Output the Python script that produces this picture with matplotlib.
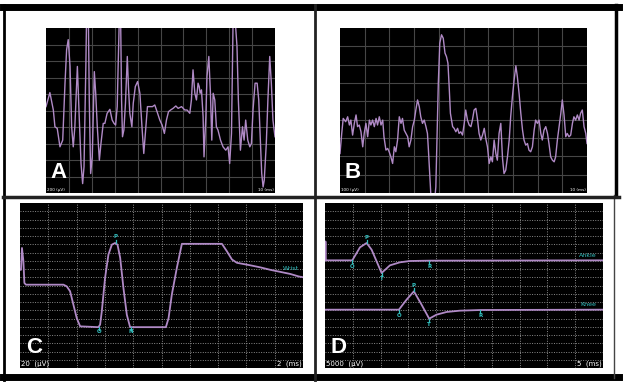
import numpy as np
import matplotlib.pyplot as plt
from matplotlib.lines import Line2D

# ---- data ----
# A: 200 uV/div, 10 ms/div
a_t = [0, 1.7, 3.2, 3.9, 4.9, 6.1, 7.3, 8.3, 9.0, 9.7, 10.5, 11.2, 11.9, 12.6, 13.7,
       14.5, 15.3, 16.0, 16.6, 17.4, 17.7, 18.5, 18.9, 19.5, 20.2, 21.1, 21.7, 22.4,
       23.3, 24.0, 25.0, 25.7, 26.7, 27.9, 28.9, 29.7, 30.4, 31.1, 31.5, 32.0, 32.6,
       33.0, 33.4, 34.0, 34.7, 35.5, 36.0, 36.6, 37.5, 38.1, 39.0, 40.0, 41.0, 42.0,
       42.7, 43.5, 44.3, 45.3, 46.5, 47.5, 48.5, 49.7, 50.7, 51.7, 52.6, 53.5, 54.4,
       55.5, 56.7, 57.7, 59.2, 60.6, 61.6, 62.8, 63.5, 64.2, 65.0, 65.7, 66.4, 66.9,
       67.3, 67.9, 68.6, 69.0, 69.8, 70.3, 71.1, 71.8, 72.4, 73.0, 73.7, 74.4, 75.1,
       76.2, 77.3, 78.5, 79.5, 80.2, 81.0, 81.7, 82.6, 83.4, 84.0, 84.9, 85.8, 86.5,
       87.2, 88.1, 89.0, 89.7, 90.4, 91.3, 92.2, 92.9, 93.6, 94.2, 94.8, 95.3, 96.2,
       96.9, 97.7, 98.4, 99.1, 100]
a_uv = [47, 217, 6, -197, -217, -440, -359, 331, 737, 859, 534, -197, -440, -197, 534,
        -75, -643, -886, -680, 534, 1100, 1100, 128, -764, -562, 471, 209, -197,
        -602, -400, -156, -156, -34, 14, -116, -156, -176, 47, 534, 1100, 1100,
        128, -318, -237, 87, 655, 290, -34, -197, 87, 290, 351, 209, -237,
        -521, -237, 47, 47, 47, 67, -14, -116, -176, -278, -116, -14, 6,
        26, 55, 26, 47, 6, 6, -34, 128, 493, 209, 128, 331, 290,
        209, 250, -75, -562, -75, 412, 655, 209, -359, 209, 128, -197, -237,
        -359, -440, -481, -440, -643, -278, 1100, 1100, 777, 128, -481, -197, -359,
        -116, -359, -440, -400, 6, 331, 331, 128, -359, -764, -927, -846, -400,
        128, 655, 331, -116, -318]

# B: 100 uV/div, 10 ms/div
b_t = [0, 0.7, 1.3, 2.3, 3.1, 3.8, 4.4, 5.1, 5.8, 6.5, 7.1, 7.8, 8.5, 9.2, 9.8, 10.5,
       11.2, 11.9, 12.5, 13.2, 13.9, 14.6, 15.2, 15.9, 16.6, 17.3, 17.8, 18.6, 19.3,
       19.9, 20.6, 21.3, 22.0, 22.6, 23.3, 24.0, 24.7, 25.3, 26.0, 26.7, 27.4, 28.0,
       28.7, 29.4, 30.1, 30.7, 31.4, 32.1, 32.7, 33.4, 34.1, 34.8, 35.4, 35.8, 36.4,
       37.1, 38.0, 38.8, 39.2, 39.8, 40.4, 41.1, 41.8, 42.5, 43.1, 43.7, 44.2, 44.7,
       45.6, 46.2, 46.9, 47.6, 48.2, 48.9, 49.6, 50.3, 50.9, 51.6, 52.3, 53.0, 53.6,
       54.3, 55.0, 55.7, 56.3, 57.0, 57.7, 58.4, 59.0, 59.7, 60.4, 61.1, 61.7, 62.4,
       63.1, 63.7, 64.4, 65.1, 65.8, 66.4, 67.1, 67.8, 68.5, 69.1, 69.8, 70.5, 71.2,
       71.8, 72.5, 73.2, 73.9, 74.5, 75.2, 75.9, 76.5, 77.2, 77.9, 78.6, 79.2, 79.9,
       80.6, 81.3, 81.9, 82.6, 83.3, 84.0, 84.6, 85.3, 86.0, 86.7, 87.3, 88.0, 88.7,
       89.4, 90.0, 90.7, 91.4, 92.0, 92.7, 93.4, 94.1, 94.7, 95.4, 96.1, 96.8, 97.4,
       98.1, 98.8, 99.5, 100]
b_uv = [-261, -139, -48, -68, -38, -88, -58, -149, -78, -27, -98, -88, -129, -220, -139,
        -78, -159, -58, -88, -58, -98, -48, -88, -38, -88, -58, -159, -240, -230,
        -250, -281, -321, -220, -250, -179, -38, -78, -48, -119, -139, -159, -220,
        -179, -98, -58, 3, 64, 23, -38, -78, -58, -98, -139, -240, -403,
        -600, -600, -463, -220, 165, 408, 459, 438, 348, 327, 287, 145, -17,
        -98, -108, -129, -108, -139, -129, -149, -78, 3, -58, -88, -98, -58,
        3, 13, -58, -139, -179, -149, -108, -169, -220, -321, -281, -311, -179,
        -261, -301, -139, -78, -291, -382, -362, -281, -179, -38, 84, 186, 271,
        205, 104, -17, -119, -179, -210, -200, -240, -250, -220, -119, -58, -78,
        -58, -139, -179, -119, -98, -139, -200, -281, -301, -311, -281, -179, -98,
        -17, 64, -27, -159, -139, -159, -149, -78, -38, -58, -27, -58, -17,
        3, -98, -139, -200]

# C: 20 uV/div, 2 ms/div
c_t = [0, 0.07, 0.14, 0.24, 0.31, 0.42, 3.07, 3.30, 3.54, 3.77, 4.01, 4.25, 5.54,
       5.66, 5.78, 6.01, 6.25, 6.49, 6.72, 6.89, 7.08, 7.31, 7.55, 7.78, 10.31,
       10.50, 10.73, 11.08, 11.44, 14.27, 14.62, 14.98, 15.33, 16.27, 16.98,
       17.69, 18.40, 19.10, 19.69, 20.0]
c_uv = [38, 38, 91, 59, 6, 2, 2, -2, -14, -46, -79, -99, -101,
        -95, -63, 18, 75, 99, 103, 99, 67, -6, -71, -101, -101,
        -79, -22, 42, 101, 101, 83, 63, 55, 49, 44,
        38, 33, 28, 22, 20]
c_marks = ["O", "P", "N"]
c_mark_t = [5.61, 6.77, 7.85]
c_mark_uv = [-101, 103, -101]

# D: 5000 uV/div, 5 ms/div
ankle_t = [0, 0.08, 0.16, 4.91, 6.29, 7.49, 8.38, 9.28, 10.18, 11.68, 13.47, 15.27,
           18.74, 50]
ankle_uv = [15250, 26700, 15250, 15250, 23130, 25760, 21720, 14650, 7580, 12220,
            14040, 14850, 15050, 15250]
knee_t = [0, 13.29, 14.67, 15.99, 17.37, 18.74, 20.06, 21.86, 24.25, 27.96, 50]
knee_uv = [-14650, -14650, -8585, -3535, -11615, -20100, -17675, -16060, -15250,
           -14850, -14650]
d_marks = ["O", "P", "T", "R"]
ankle_mark_t = [4.91, 7.49, 10.18, 18.74]
ankle_mark_uv = [15250, 25760, 7580, 15050]
knee_mark_t = [13.29, 15.99, 18.74, 27.96]
knee_mark_uv = [-14650, -3535, -20100, -14850]

trace = '#b08ac6'
cyan = '#33c0c0'

fig = plt.figure(figsize=(6.27, 3.88), dpi=100)
fig.patch.set_facecolor('white')

# frame drawn in pixel coordinates
bg = fig.add_axes([0, 0, 1, 1])
bg.set_xlim(0, 627)
bg.set_ylim(388, 0)
bg.axis('off')
bg.add_line(Line2D([3, 619], [7, 7], color='black', lw=5))
bg.add_line(Line2D([3, 619], [377, 377], color='black', lw=5))
bg.add_line(Line2D([4, 4], [5, 380], color='black', lw=2))
bg.add_line(Line2D([616, 616], [5, 195], color='black', lw=2.5))
bg.add_line(Line2D([614, 614], [195, 378], color='#444444', lw=1))
bg.add_line(Line2D([3, 619], [196.5, 196.5], color='#222222', lw=2.5))
bg.add_line(Line2D([315, 315], [5, 380], color='#222222', lw=2))


def panel(rect, xlim, ylim, nx, ny, dotted):
    ax = fig.add_axes(rect)
    ax.set_facecolor('black')
    ax.set_xlim(*xlim)
    ax.set_ylim(*ylim)
    for i in range(1, nx):
        x = xlim[0] + (xlim[1] - xlim[0]) * i / nx
        if dotted:
            ax.axvline(x, color='#8a8a8a', lw=0.7, ls=(0, (1, 1.5)), zorder=1)
        else:
            ax.axvline(x, color='#464646', lw=0.8, zorder=1)
    for j in range(1, ny):
        y = ylim[0] + (ylim[1] - ylim[0]) * j / ny
        if dotted:
            ax.axhline(y, color='#8a8a8a', lw=0.7, ls=(0, (1, 1.5)), zorder=1)
        else:
            ax.axhline(y, color='#464646', lw=0.8, zorder=1)
    ax.set_xticks([])
    ax.set_yticks([])
    for s in ax.spines.values():
        s.set_visible(False)
    return ax


def letter(ax, s):
    ax.text(0.02, 0.06, s, transform=ax.transAxes, color='white', fontsize=16,
            fontweight='bold', family='Liberation Sans', ha='left', va='bottom')


def scale_text(ax, left, right, size):
    ax.text(0.005, 0.005, left, transform=ax.transAxes, color='white', fontsize=size,
            ha='left', va='bottom')
    ax.text(0.995, 0.005, right, transform=ax.transAxes, color='white', fontsize=size,
            ha='right', va='bottom')


# A
axA = panel([46 / 627, 1 - 193 / 388, 229 / 627, 165 / 388], (0, 100), (-1000, 1000),
            10, 10, False)
axA.plot(a_t, a_uv, color=trace, lw=1.0, zorder=3)
letter(axA, 'A')
scale_text(axA, '200 (µV)', '10 (ms)', 3)

# B
axB = panel([340 / 627, 1 - 193 / 388, 247 / 627, 165 / 388], (0, 100), (-500, 500),
            10, 9, False)
axB.plot(b_t, b_uv, color=trace, lw=1.0, zorder=3)
letter(axB, 'B')
scale_text(axB, '100 (µV)', '10 (ms)', 3)

# C
axC = panel([20 / 627, 1 - 368 / 388, 283 / 627, 165 / 388], (0, 20), (-200, 200),
            10, 20, True)
axC.plot(c_t, c_uv, color=trace, lw=1.3, zorder=3)
for name, t, v in zip(c_marks, c_mark_t, c_mark_uv):
    if v > 0:
        axC.plot([t, t], [v, v + 8], color=cyan, lw=0.9, zorder=4)
        axC.text(t, v + 16, name, color=cyan, fontsize=4, fontweight='bold',
                 ha='center', va='center', zorder=4)
    else:
        axC.plot([t, t], [v, v - 6], color=cyan, lw=0.9, zorder=4)
        axC.text(t, v - 11, name, color=cyan, fontsize=4, fontweight='bold',
                 ha='center', va='center', zorder=4)
axC.text(19.15, 41, 'Wrist', color=cyan, fontsize=4.5, ha='center', va='center',
         zorder=4)
letter(axC, 'C')
scale_text(axC, '20  (µV)', '2  (ms)', 5)

# D
axD = panel([325 / 627, 1 - 368 / 388, 278 / 627, 165 / 388], (0, 50),
            (-50000, 50000), 10, 20, True)
axD.plot(ankle_t, ankle_uv, color=trace, lw=1.3, zorder=3)
axD.plot(knee_t, knee_uv, color=trace, lw=1.3, zorder=3)
for t_list, v_list in [(ankle_mark_t, ankle_mark_uv), (knee_mark_t, knee_mark_uv)]:
    for k, (name, t, v) in enumerate(zip(d_marks, t_list, v_list)):
        sign = 1 if k == 1 else -1
        axD.plot([t, t], [v, v + sign * 1800], color=cyan, lw=0.9, zorder=4)
        axD.text(t, v + sign * 3600, name, color=cyan, fontsize=4, fontweight='bold',
                 ha='center', va='center', zorder=4)
axD.text(47.3, 18080, 'Ankle', color=cyan, fontsize=4.5, ha='center', va='center',
         zorder=4)
axD.text(47.3, -11615, 'Knee', color=cyan, fontsize=4.5, ha='center', va='center',
         zorder=4)
letter(axD, 'D')
scale_text(axD, '5000  (µV)', '5  (ms)', 5)

fig.savefig('out.png', dpi=100, facecolor='white')
